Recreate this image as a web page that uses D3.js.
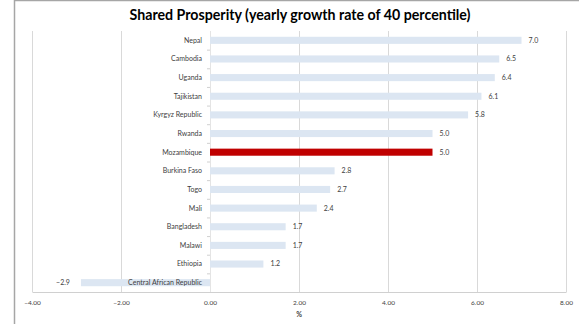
<!DOCTYPE html>
<html>
<head>
<meta charset="utf-8">
<script src="https://cdn.jsdelivr.net/npm/d3@7"></script>
<style>
  html, body { margin: 0; padding: 0; background: #fff; }
  svg { display: block; }
</style>
</head>
<body>
<svg id="chart" width="579" height="324"></svg>
<script>
// Yearly growth rate of the bottom 40 percent, by country (%)
const countries = ["Nepal", "Cambodia", "Uganda", "Tajikistan", "Kyrgyz Republic", "Rwanda",
  "Mozambique", "Burkina Faso", "Togo", "Mali", "Bangladesh", "Malawi", "Ethiopia",
  "Central African Republic"];
const growth = [7.0, 6.5, 6.4, 6.1, 5.8, 5.0, 5.0, 2.8, 2.7, 2.4, 1.7, 1.7, 1.2, -2.9];
const highlighted = ["Mozambique"];
const xTicks = [-4, -2, 0, 2, 4, 6, 8];
const titleText = "Shared Prosperity (yearly growth rate of 40 percentile)";
const axisTitle = "%";

const rows = countries.map((c, i) => ({ country: c, value: growth[i] }));

const svg = d3.select("#chart");
const font = "Lato, 'Open Sans', sans-serif";

// outer frame (top and left edges)
svg.append("line").attr("x1", 14.5).attr("x2", 579).attr("y1", 0.5).attr("y2", 0.5)
  .attr("stroke", "#a6a6a6").attr("stroke-width", 1.5);
svg.append("line").attr("x1", 14.5).attr("x2", 14.5).attr("y1", 0).attr("y2", 324)
  .attr("stroke", "#a6a6a6").attr("stroke-width", 1.5);

const x = d3.scaleLinear().domain([-4, 8]).range([32, 566]);
const y = d3.scaleBand().domain(countries).range([31, 292]).paddingInner(0.62).paddingOuter(0.31);
const yStep = d3.scaleBand().domain(countries).range([31, 292]);

// title
svg.append("text")
  .attr("x", 300).attr("y", 19.5)
  .attr("text-anchor", "middle")
  .attr("font-family", font).attr("font-weight", "bold")
  .attr("font-size", 14.2).attr("fill", "#000")
  .text(titleText);

// vertical gridlines
svg.append("g").selectAll("line").data(xTicks).join("line")
  .attr("x1", d => x(d) + 0.5).attr("x2", d => x(d) + 0.5)
  .attr("y1", 31).attr("y2", 292)
  .attr("stroke", "#d9d9d9").attr("stroke-width", 1);

// bottom axis with tick labels
const xAxis = d3.axisBottom(x).tickValues(xTicks).tickFormat(d3.format(".2f")).tickSize(0).tickPadding(8);
const gx = svg.append("g").attr("transform", "translate(0,292)").call(xAxis);
gx.select(".domain").attr("stroke", "#d0d0d0").attr("stroke-width", 1.2);
gx.selectAll("text").attr("font-family", font).attr("font-size", 6.5).attr("fill", "#404040");

svg.append("text")
  .attr("x", 299).attr("y", 317)
  .attr("text-anchor", "middle")
  .attr("font-family", font).attr("font-weight", "bold")
  .attr("font-size", 7).attr("fill", "#404040")
  .text(axisTitle);

// category axis at zero with small ticks between categories
svg.append("line").attr("x1", x(0) + 0.5).attr("x2", x(0) + 0.5).attr("y1", 31).attr("y2", 292)
  .attr("stroke", "#e4e4e4");
svg.append("g").selectAll("line").data(countries.slice(1)).join("line")
  .attr("x1", x(0) - 3).attr("x2", x(0))
  .attr("y1", d => yStep(d) + 0.5).attr("y2", d => yStep(d) + 0.5)
  .attr("stroke", "#d0d0d0");

// bars
svg.append("g").selectAll("rect").data(rows).join("rect")
  .attr("x", d => x(Math.min(0, d.value)))
  .attr("width", d => Math.abs(x(d.value) - x(0)))
  .attr("y", d => y(d.country))
  .attr("height", y.bandwidth())
  .attr("fill", d => highlighted.includes(d.country) ? "#c00000" : "#dce6f2");

// category labels, right-aligned next to the zero axis
svg.append("g").selectAll("text").data(rows).join("text")
  .attr("x", x(0) - 8)
  .attr("y", d => y(d.country) + y.bandwidth() / 2)
  .attr("dy", "0.35em")
  .attr("text-anchor", "end")
  .attr("font-family", font).attr("font-size", 7).attr("fill", "#404040")
  .text(d => d.country);

// value labels at bar ends
svg.append("g").selectAll("text").data(rows).join("text")
  .attr("x", d => d.value >= 0 ? x(d.value) + 7 : x(d.value) - 11)
  .attr("y", d => y(d.country) + y.bandwidth() / 2)
  .attr("dy", "0.35em")
  .attr("text-anchor", d => d.value >= 0 ? "start" : "end")
  .attr("font-family", font).attr("font-size", 7).attr("fill", "#404040")
  .text(d => d3.format(".1f")(d.value));
</script>
</body>
</html>
